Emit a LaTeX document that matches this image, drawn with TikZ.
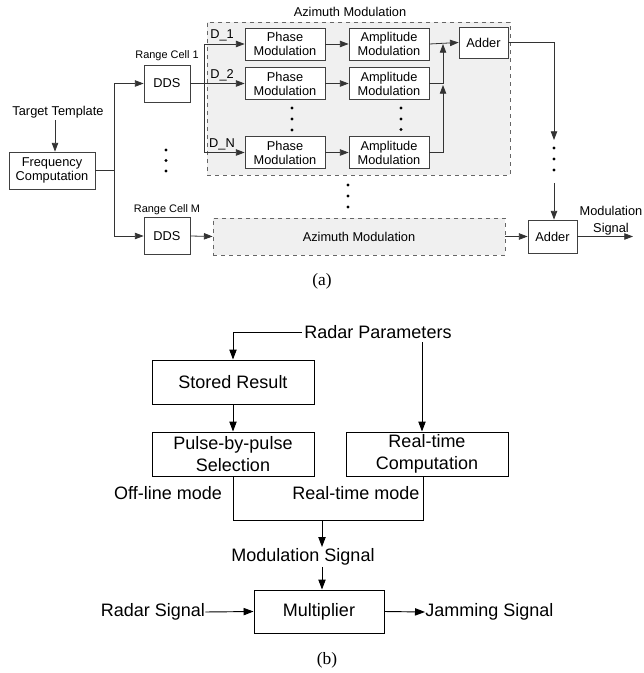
\documentclass[tikz,border=0pt]{standalone}
\usepackage{fontspec}
\setmainfont{Liberation Sans}
\newfontfamily\capfont{Liberation Serif}
\usetikzlibrary{arrows.meta,positioning,calc}
\begin{document}
\begin{tikzpicture}[x=0.75pt,y=-0.75pt,
  arr/.style={-{Triangle[length=6.5pt,width=4.8pt]}},
  arrb/.style={-{Triangle[length=7.5pt,width=5.5pt]}},
  ln/.style={line width=0.6pt,draw=black!80},
  boxa/.style={draw=black!75,line width=0.6pt,fill=white,inner sep=0pt,align=center,font=\fontsize{9.6pt}{10.5pt}\selectfont},
  boxb/.style={draw=black,line width=0.7pt,fill=white,inner sep=0pt,align=center,font=\fontsize{13.5pt}{16pt}\selectfont},
  lbla/.style={inner sep=0pt,font=\fontsize{9.6pt}{11pt}\selectfont},
  lbls/.style={inner sep=0pt,font=\fontsize{8.2pt}{9pt}\selectfont},
  lblb/.style={inner sep=0pt,font=\fontsize{13.5pt}{16pt}\selectfont},
  dashbox/.style={draw=black!60,dashed,line width=0.6pt,fill=black!6},
  dotm/.style={fill=black,circle,inner sep=0pt,minimum size=2.6pt}
]
\useasboundingbox (0,0) rectangle (643,673);
% ---------------- (a) ----------------
\node[dashbox,minimum width=227.25pt,minimum height=114.75pt,inner sep=0pt] (az1) at (358.5,98.5) {};
\node[dashbox,minimum width=219pt,minimum height=27.75pt,inner sep=0pt,font=\fontsize{9.6pt}{10.5pt}\selectfont] (az2) at (359,236.5) {Azimuth Modulation};
\node[lbla] (azl) at (350,12) {Azimuth Modulation};

\node[lbla] (tt) at (58,112) {Target Template};
\node[boxa,minimum width=64.5pt,minimum height=27.75pt] (fc) at (52,170.5) {Frequency\\Computation};
\node[boxa,minimum width=34.5pt,minimum height=27.75pt] (dds1) at (167,83.5) {DDS};
\node[boxa,minimum width=34.5pt,minimum height=27.75pt] (ddsM) at (167,236) {DDS};
\node[lbls] (rc1) at (167,56) {Range Cell 1};
\node[lbls] (rcM) at (167,210) {Range Cell M};

\foreach \n/\y in {1/44,2/83.5,N/152.5}{
  \node[boxa,minimum width=60pt,minimum height=24pt] (p\n) at (285,\y) {Phase\\Modulation};
  \node[boxa,minimum width=60pt,minimum height=24pt] (a\n) at (389,\y) {Amplitude\\Modulation};
}
\node[lbla] (d1) at (222,35.5) {D\_1};
\node[lbla] (d2) at (222,75) {D\_2};
\node[lbla] (dN) at (222,144.5) {D\_N};
\node[boxa,minimum width=36.75pt,minimum height=23.25pt] (add1) at (483.5,42.5) {Adder};
\node[boxa,minimum width=36.75pt,minimum height=24.75pt] (add2) at (552.5,236.5) {Adder};
\node[lbla,align=center,font=\fontsize{9.6pt}{13pt}\selectfont] (msa) at (611,221) {Modulation\\Signal};

% dots
\foreach \x/\ya/\yb/\yc in {166/150/160.5/171, 292/108/119/130, 401/108/119/129.5, 348/185/196/207, 554/148/159/170}{
  \node[dotm] at (\x,\ya) {};
  \node[dotm] at (\x,\yb) {};
  \node[dotm] at (\x,\yc) {};
}

\coordinate (ttb) at (55,120);
\coordinate (j1) at (114,170.5);
\coordinate (j2) at (204,83.5);
\coordinate (j3) at (443,44);
\coordinate (j4) at (443,85);
\coordinate (j5) at (554,42.5);
\coordinate (j6) at (554,140);
\coordinate (j7) at (554,183);
\coordinate (out) at (633,236.5);

\draw[ln,arr] (ttb) -- (ttb |- fc.north);
\draw[ln] (fc.east) -- (j1);
\draw[ln,arr] (j1) |- (dds1.west);
\draw[ln,arr] (j1) |- (ddsM.west);
\draw[ln,arr] (dds1.east) -- (p2.west);
\draw[ln,arr] (j2) |- (p1.west);
\draw[ln,arr] (j2) |- (pN.west);
\foreach \n in {1,2,N}{\draw[ln,arr] (p\n.east) -- (a\n.west);}
\draw[ln,arr] (a1.east) -- (add1.west);
\draw[ln,arr] (a2.east) -| (j3);
\draw[ln,arr] (aN.east) -| (j4);
\draw[ln] (add1.east) -- (j5);
\draw[ln,arr] (j5) -- (j6);
\draw[ln,arr] (j7) -- (j7 |- add2.north);
\draw[ln,arr] (ddsM.east) -- (az2.west);
\draw[ln,arr] (az2.east) -- (add2.west);
\draw[ln,arr] (add2.east) -- (out);

\node[inner sep=0pt,font=\capfont\fontsize{13pt}{15pt}\selectfont] (capa) at (322,281) {(a)};

% ---------------- (b) ----------------
\node[lblb] (rp) at (378,332) {Radar Parameters};
\node[boxb,minimum width=121.5pt,minimum height=33pt] (sr) at (233,382) {Stored Result};
\node[boxb,minimum width=121.5pt,minimum height=33pt] (ps) at (233,454) {Pulse-by-pulse\\Selection};
\node[boxb,minimum width=121.5pt,minimum height=33pt] (rt) at (427,454) {Real-time\\Computation};
\node[lblb] (ol) at (168,493) {Off-line mode};
\node[lblb] (rm) at (356,493) {Real-time mode};
\node[lblb] (ms) at (303,557) {Modulation Signal};
\node[boxb,minimum width=97.5pt,minimum height=32.25pt] (mul) at (319,611.5) {Multiplier};
\node[lblb] (rs) at (153,612) {Radar Signal};
\node[lblb,anchor=west] (js) at (425,612) {Jamming Signal};

\coordinate (rtin) at (422,342);
\coordinate (m2) at (423,520);
\coordinate (m3) at (322,520);

\draw[line width=0.7pt,arrb] ([xshift=-2pt]rp.west) -| (sr.north);
\draw[line width=0.7pt,arrb] (rtin) -- (rtin |- rt.north);
\draw[line width=0.7pt,arrb] (sr.south) -- (ps.north);
\draw[line width=0.7pt] (ps.south) |- (m2) -- (m2 |- rt.south);
\draw[line width=0.7pt,arrb] (m3) -- ([yshift=1pt]m3 |- ms.north);
\draw[line width=0.7pt,arrb] ([yshift=-1pt]m3 |- ms.south) -- (m3 |- mul.north);
\draw[line width=0.7pt,arrb] (rs.east) -- (mul.west);
\draw[line width=0.7pt,arrb] (mul.east) -- (js.west);

\node[inner sep=0pt,font=\capfont\fontsize{13pt}{15pt}\selectfont] (capb) at (327,660) {(b)};
\end{tikzpicture}
\end{document}
